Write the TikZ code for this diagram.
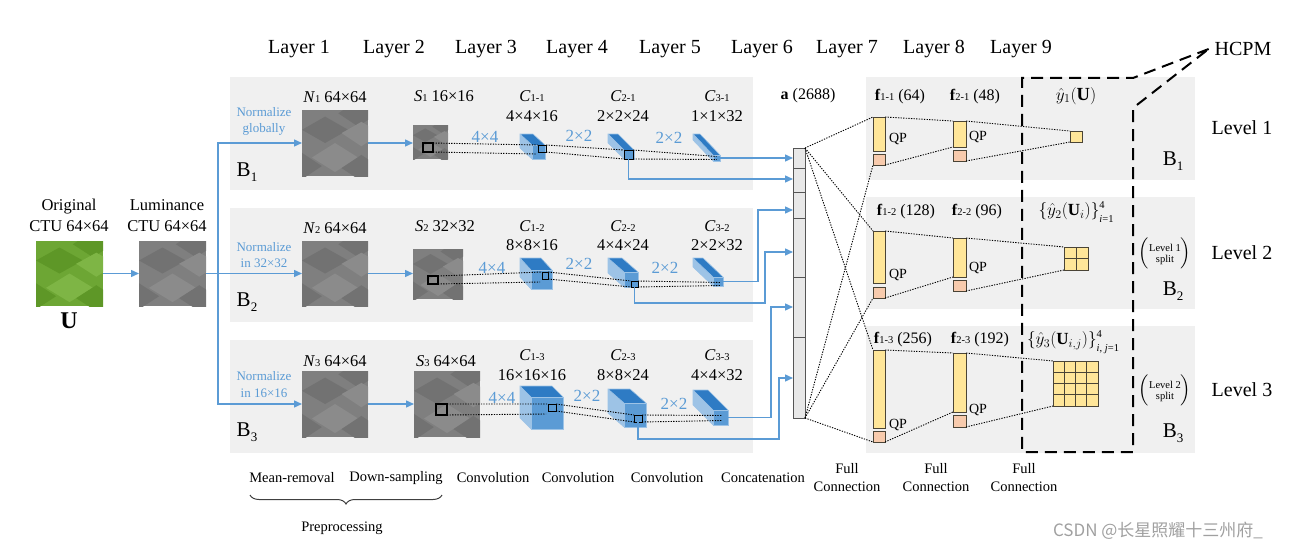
\documentclass[tikz,border=0pt]{standalone}
\usepackage{amsmath}
\usepackage{fontspec}
\setmainfont{Liberation Serif}
\newfontfamily\cjk{Noto Sans CJK SC}
\usetikzlibrary{arrows.meta,fit,calc,decorations.pathreplacing}

\definecolor{panel}{HTML}{F0F0F0}
\definecolor{bl}{HTML}{5B9BD5}
\definecolor{ctop}{HTML}{2E7BC4}
\definecolor{cfront}{HTML}{5B9BD5}
\definecolor{cside}{HTML}{9DC3E6}
\definecolor{fy}{HTML}{FFE699}
\definecolor{fo}{HTML}{F8CBAD}
\definecolor{fedge}{HTML}{4A4436}
\definecolor{vecfill}{HTML}{E8E8E8}
\definecolor{vecedge}{HTML}{555555}
\definecolor{imgg}{HTML}{7F7F7F}
\definecolor{imgdk}{HTML}{727272}
\definecolor{imglt}{HTML}{8B8B8B}
\definecolor{grn}{HTML}{6DA634}
\definecolor{grndk}{HTML}{5E9727}
\definecolor{grnlt}{HTML}{7EB545}
\definecolor{wmark}{HTML}{A0A0A0}

\newcommand{\fsz}[2]{\fontsize{#1}{#2}\selectfont}
\newcommand{\sbs}[1]{{\fsz{10.5}{11}#1}}
\newcommand{\lowsub}[1]{\raisebox{-5pt}{\fsz{13}{13}#1}}
\newcommand{\limstack}[2]{{\fsz{10.5}{13.5}\begin{tabular}[c]{@{}l@{}}#1\\#2\end{tabular}}}

% node, width, height, dark colour, light colour
\newcommand{\texturize}[5]{%
  \begin{scope}
    \clip (#1.north west) rectangle (#1.south east);
    \begin{scope}[shift={(#1.north west)}, xscale=#2, yscale=#3]
      \fill[#4] (0,0.3) -- (0.35,0.1) -- (0.7,0.3) -- (0.35,0.5) -- cycle;
      \fill[#4] (0.55,0.05) -- (0.85,-0.15) -- (1.15,0.05) -- (0.85,0.25) -- cycle;
      \fill[#5] (0.15,0.72) -- (0.5,0.5) -- (0.85,0.72) -- (0.5,0.94) -- cycle;
      \fill[#5] (0.6,0.35) -- (0.9,0.18) -- (1.2,0.35) -- (0.9,0.55) -- cycle;
      \fill[#4] (0.6,0.88) -- (0.9,0.68) -- (1.2,0.88) -- (0.9,1.08) -- cycle;
      \fill[#4] (-0.3,0.85) -- (0.0,0.65) -- (0.3,0.85) -- (0,1.05) -- cycle;
    \end{scope}
  \end{scope}}

% name, x0, y0, x1, y1 (front face), depth dx, dy (towards upper left)
\newcommand{\cube}[7]{%
  \fill[cside] (#2,#3) -- (#2,#5) -- ({#2-#6},{#5-#7}) -- ({#2-#6},{#3-#7}) -- cycle;
  \fill[ctop] (#2,#3) -- (#4,#3) -- ({#4-#6},{#3-#7}) -- ({#2-#6},{#3-#7}) -- cycle;
  \node[cubefront, fit={(#2,#3) (#4,#5)}] (#1) {};
  \draw[cedge] (#4,#3) -- ({#4-#6},{#3-#7}) -- ({#2-#6},{#3-#7}) -- ({#2-#6},{#5-#7}) -- (#2,#5)
               (#2,#3) -- ({#2-#6},{#3-#7});}

\begin{document}
\begin{tikzpicture}[x=1pt,y=-1pt,
  every node/.style={inner sep=0pt, outer sep=0pt},
  panelbox/.style={fill=panel, draw=none},
  img/.style={draw=none},
  layer/.style={font=\fsz{20}{24}},
  lbl/.style={font=\fsz{16.5}{21}, align=center},
  bottomlbl/.style={font=\fsz{14.5}{18}, align=center},
  bluetxt/.style={text=bl, font=\fsz{13}{16.5}, align=center},
  kern/.style={text=bl, font=\fsz{17}{20}},
  bigB/.style={font=\fsz{21}{21}},
  mathlbl/.style={font=\fsz{17}{20}},
  barrow/.style={draw=bl, line width=1.4pt, -{Triangle[length=8pt,width=7pt]}},
  dots/.style={dash pattern=on 1.3pt off 1.3pt, line width=0.9pt},
  sqr/.style={draw=black, line width=1.1pt},
  cubefront/.style={fill=cfront, draw=cside, line width=0.6pt},
  cedge/.style={draw=cside, line width=0.6pt},
  ybar/.style={fill=fy, draw=fedge, line width=0.9pt},
  obox/.style={fill=fo, draw=fedge, line width=0.9pt},
  vecbox/.style={fill=vecfill, draw=vecedge, line width=1pt},
  hcpmline/.style={draw=black, line width=2pt, dash pattern=on 12pt off 7pt}]

\useasboundingbox (0,0) rectangle (1294,551);

% ---------- panels ----------
\node[panelbox, fit={(230,77) (753,190)}] (P1) {};
\node[panelbox, fit={(230,208) (753,322)}] (P2) {};
\node[panelbox, fit={(230,340) (753,453)}] (P3) {};
\node[panelbox, fit={(866,77) (1195,180)}] (R1) {};
\node[panelbox, fit={(866,197) (1195,309)}] (R2) {};
\node[panelbox, fit={(866,326) (1195,453)}] (R3) {};

% ---------- layer labels ----------
\foreach \x/\n in {299/1,394/2,486/3,577/4,670/5,762/6,847/7,934/8,1021/9}
  \node[layer] (Lay\n) at (\x,49) {Layer \n};
\node[layer] (HCPM) at (1243,49) {HCPM};

% ---------- input ----------
\node[lbl] (origT) at (69,215.5) {Original\\CTU 64×64};
\node[lbl] (lumT) at (167,215.5) {Luminance\\CTU 64×64};
\node[img, fill=grn, fit={(36,241) (103,306)}] (orig) {};
\texturize{orig}{67}{65}{grndk}{grnlt}
\node[img, fill=imgg, fit={(139,241) (206,306)}] (lum) {};
\texturize{lum}{67}{65}{imgdk}{imglt}
\node[font=\fsz{24}{24}\bfseries] (Ulbl) at (69,321) {U};

% ---------- N images ----------
\node[img, fill=imgg, fit={(302,110) (368,176)}] (N1) {};
\texturize{N1}{66}{66}{imgdk}{imglt}
\node[img, fill=imgg, fit={(302,241) (368,306)}] (N2) {};
\texturize{N2}{66}{65}{imgdk}{imglt}
\node[img, fill=imgg, fit={(302,371) (368,437)}] (N3) {};
\texturize{N3}{66}{66}{imgdk}{imglt}

% ---------- S images ----------
\node[img, fill=imgg, fit={(413,125) (448,159)}] (S1) {};
\texturize{S1}{35}{34}{imgdk}{imglt}
\node[img, fill=imgg, fit={(413,249) (463,299)}] (S2) {};
\texturize{S2}{50}{50}{imgdk}{imglt}
\node[img, fill=imgg, fit={(414,371) (480,437)}] (S3) {};
\texturize{S3}{66}{66}{imgdk}{imglt}

% labels in left panels
\node[bluetxt] (nz1) at (264,121.5) {Normalize\\globally};
\node[bluetxt] (nz2) at (264,255) {Normalize\\in 32×32};
\node[bluetxt] (nz3) at (264,384.5) {Normalize\\in 16×16};
\node[lbl] (N1l) at (335,97) {\textit{N}\sbs{1} 64×64};
\node[lbl] (N2l) at (335,228) {\textit{N}\sbs{2} 64×64};
\node[lbl] (N3l) at (335,361) {\textit{N}\sbs{3} 64×64};
\node[lbl] (S1l) at (444,96) {\textit{S}\sbs{1} 16×16};
\node[lbl] (S2l) at (445,226) {\textit{S}\sbs{2} 32×32};
\node[lbl] (S3l) at (446,361) {\textit{S}\sbs{3} 64×64};
\node[bigB] (B1l) at (247,172) {B\lowsub{1}};
\node[bigB] (B2l) at (247,302) {B\lowsub{2}};
\node[bigB] (B3l) at (247,432) {B\lowsub{3}};

% ---------- input arrows ----------
\coordinate (br) at (218,273.5);
\draw[barrow] (orig) -- (lum);
\draw[barrow] (lum.east) -- (N2.west);
\draw[barrow] (br) |- (N1);
\draw[barrow] (br) |- (N3);
\draw[barrow] (N1.east) -- (N1.east -| S1.west);
\draw[barrow] (N2.east) -- (N2.east -| S2.west);
\draw[barrow] (N3.east) -- (N3.east -| S3.west);

% ---------- conv layer labels ----------
\node[lbl, font=\fsz{16.5}{20}] (C11l) at (532,106) {\textit{C}\sbs{1-1}\\4×4×16};
\node[lbl, font=\fsz{16.5}{20}] (C21l) at (623,106) {\textit{C}\sbs{2-1}\\2×2×24};
\node[lbl, font=\fsz{16.5}{20}] (C31l) at (717,106) {\textit{C}\sbs{3-1}\\1×1×32};
\node[lbl, font=\fsz{16.5}{19}] (C12l) at (532,235.5) {\textit{C}\sbs{1-2}\\8×8×16};
\node[lbl, font=\fsz{16.5}{19}] (C22l) at (623,235.5) {\textit{C}\sbs{2-2}\\4×4×24};
\node[lbl, font=\fsz{16.5}{19}] (C32l) at (717,235.5) {\textit{C}\sbs{3-2}\\2×2×32};
\node[lbl, font=\fsz{16.5}{20}] (C13l) at (532,365) {\textit{C}\sbs{1-3}\\16×16×16};
\node[lbl, font=\fsz{16.5}{20}] (C23l) at (623,365) {\textit{C}\sbs{2-3}\\8×8×24};
\node[lbl, font=\fsz{16.5}{20}] (C33l) at (717,365) {\textit{C}\sbs{3-3}\\4×4×32};

\node[kern] (k11) at (485,137) {4×4};
\node[kern] (k21) at (579,136) {2×2};
\node[kern] (k31) at (669,138) {2×2};
\node[kern] (k12) at (492,268) {4×4};
\node[kern] (k22) at (579,264) {2×2};
\node[kern] (k32) at (665,268) {2×2};
\node[kern] (k13) at (502,398) {4×4};
\node[kern] (k23) at (587,396) {2×2};
\node[kern] (k33) at (674,404) {2×2};

% ---------- cubes ----------
\cube{C11}{532}{145}{545}{159}{12}{11}
\cube{C21}{624}{150}{634}{159}{16}{16}
\cube{C31}{713}{155}{720}{161}{20}{21}
\cube{C12}{531}{270}{552}{289}{11}{12}
\cube{C22}{624}{272}{638}{287}{16}{14}
\cube{C32}{713}{277}{723}{286}{20}{19}
\cube{C13}{531}{397}{563}{429}{11}{11}
\cube{C23}{624}{403}{646}{427}{16}{14}
\cube{C33}{713}{410}{728}{425}{20}{20}

% receptive-field squares
\node[sqr, fit={(423,143) (433,152)}] (q1) {};
\node[sqr, fit={(428,276) (438,284)}] (q2) {};
\node[sqr, fit={(436,404) (447,415)}] (q3) {};
\node[sqr, line width=0.9pt, fit={(538,145) (546,152)}] (cq11) {};
\node[sqr, line width=0.9pt, fit={(624,150) (633,159)}] (cq21) {};
\node[sqr, line width=0.9pt, fit={(542,272) (548,279)}] (cq12) {};
\node[sqr, line width=0.9pt, fit={(631,281) (638,287)}] (cq22) {};
\node[sqr, line width=0.9pt, fit={(548,404) (556,411)}] (cq13) {};
\node[sqr, line width=0.9pt, fit={(634,415) (642,422)}] (cq23) {};

% dotted projections
\draw[dots] (q1.north east) -- (cq11.north west) (q1.south east) -- ($(cq11.south west)+(-2,2)$);
\draw[dots] (cq11.north east) -- (cq21.north west) (cq11.south east) -- (cq21.south west);
\draw[dots] (cq21.north east) -- ($(C31.center)+(0,-1.5)$) (cq21.south east) -- ($(C31.center)+(0,1.5)$);
\draw[dots] (q2.north east) -- (cq12.north west) (q2.south east) -- ($(cq12.south west)+(-2,3)$);
\draw[dots] (cq12.north east) -- (cq22.north west) (cq12.south east) -- (cq22.south west);
\draw[dots] (cq22.north east) -- ($(C32.center)+(3,1)$) (cq22.south east) -- ($(C32.center)+(3,4)$);
\draw[dots] (q3.north east) -- (cq13.north west) (q3.south east) -- ($(cq13.south west)+(-2,3)$);
\draw[dots] (cq13.north east) -- (cq23.north west) (cq13.south east) -- (cq23.south west);
\draw[dots] (cq23.north east) -- ($(C33.center)+(2,-2)$) (cq23.south east) -- ($(C33.center)+(2,3)$);

% ---------- concatenation vector ----------
\node[vecbox, fit={(793,148) (805,418)}] (vec) {};
\foreach \yy in {168,192,218,277,337}
  \draw[draw=vecedge, line width=1pt] (vec.west |- 0,\yy) -- (vec.east |- 0,\yy);
\node[font=\fsz{16}{19}] (veclbl) at (808,96) {\textbf{a} (2688)};

% feature arrows into the vector
\draw[barrow] (C31.east) -- (C31.east -| vec.west);
\draw[barrow] (cq21.south) |- (vec.west |- 0,179);
\draw[barrow] (C32.east) -| (758,210) -- (vec.west |- 0,210);
\draw[barrow] (cq22.south) |- (765,303) |- (vec.west |- 0,252);
\draw[barrow] (C33.east) -| (771,307) -- (vec.west |- 0,307);
\draw[barrow] (cq23.south) |- (779,439) |- (vec.west |- 0,378);

% ---------- fully connected ----------
\node[ybar, fit={(873,117) (885,151)}] (f11) {};
\node[obox, fit={(873,154) (885,165)}] (o11) {};
\node[ybar, fit={(953,121) (966,147)}] (f21) {};
\node[obox, fit={(953,150) (966,161)}] (o21) {};
\node[ybar, fit={(1070,131) (1082,142)}] (y1) {};

\node[ybar, fit={(873,231) (885,283)}] (f12) {};
\node[obox, fit={(873,287) (885,298)}] (o12) {};
\node[ybar, fit={(953,238) (966,277)}] (f22) {};
\node[obox, fit={(953,280) (966,291)}] (o22) {};
\node[ybar, fit={(1064,247) (1088,270)}] (y2) {};
\draw[fedge, line width=0.9pt] (y2.north) -- (y2.south) (y2.west) -- (y2.east);

\node[ybar, fit={(873,350) (885,428)}] (f13) {};
\node[obox, fit={(873,431) (885,442)}] (o13) {};
\node[ybar, fit={(953,353) (966,412)}] (f23) {};
\node[obox, fit={(953,415) (966,427)}] (o23) {};
\node[ybar, fit={(1053,361) (1098,406)}] (y3) {};
\foreach \t in {0.25,0.5,0.75} {
  \draw[fedge, line width=0.9pt] ($(y3.north west)!\t!(y3.north east)$) -- ($(y3.south west)!\t!(y3.south east)$);
  \draw[fedge, line width=0.9pt] ($(y3.north west)!\t!(y3.south west)$) -- ($(y3.north east)!\t!(y3.south east)$);
}

% vector to first FC layers
\draw[dots] (vec.north east) -- (f11.north west);
\draw[dots] (vec.north east) -- (f12.north west);
\draw[dots] (vec.north east) -- (f13.north west);
\draw[dots] (vec.south east) -- (o11.south west);
\draw[dots] (vec.south east) -- (o12.south west);
\draw[dots] (vec.south east) -- (o13.south west);

% FC projections
\draw[dots] (f11.north east) -- (f21.north west) (o11.south east) -- (f21.south west);
\draw[dots] (f21.north east) -- (y1.north west) (o21.south east) -- (y1.south west);
\draw[dots] (f12.north east) -- (f22.north west) (o12.south east) -- (f22.south west);
\draw[dots] (f22.north east) -- (y2.north west) (o22.south east) -- (y2.south west);
\draw[dots] (f13.north east) -- (f23.north west) (o13.south east) -- (f23.south west);
\draw[dots] (f23.north east) -- (y3.north west) (o23.south east) -- (y3.south west);

% QP labels
\node[font=\fsz{14}{16}] (qp11) at (898,139) {QP};
\node[font=\fsz{14}{16}] (qp21) at (978,137) {QP};
\node[font=\fsz{14}{16}] (qp12) at (898,275) {QP};
\node[font=\fsz{14}{16}] (qp22) at (978,268) {QP};
\node[font=\fsz{14}{16}] (qp13) at (898,425) {QP};
\node[font=\fsz{14}{16}] (qp23) at (978,410) {QP};

% FC labels
\node[font=\fsz{16}{19}] (f11l) at (900,97) {\textbf{f}\sbs{1-1} (64)};
\node[font=\fsz{16}{19}] (f21l) at (975,97) {\textbf{f}\sbs{2-1} (48)};
\node[font=\fsz{16}{19}] (f12l) at (906,212) {\textbf{f}\sbs{1-2} (128)};
\node[font=\fsz{16}{19}] (f22l) at (977,212) {\textbf{f}\sbs{2-2} (96)};
\node[font=\fsz{16}{19}] (f13l) at (903,340) {\textbf{f}\sbs{1-3} (256)};
\node[font=\fsz{16}{19}] (f23l) at (980,340) {\textbf{f}\sbs{2-3} (192)};

% outputs
\node[font=\fsz{18.5}{20}] (y1l) at (1076,96) {$\hat{y}_1(\mathbf{U})$};
\node[mathlbl] (y2l) at (1076,213) {$\{\hat{y}_2(\mathbf{U}_i)\}$\limstack{4}{\textit{i}=1}};
\node[mathlbl] (y3l) at (1073,342) {$\{\hat{y}_3(\mathbf{U}_{i,j})\}$\limstack{4}{\textit{i}, \textit{j}=1}};

\node[layer] (lev1) at (1242,128) {Level 1};
\node[layer] (lev2) at (1242,253) {Level 2};
\node[layer] (lev3) at (1242,390) {Level 3};
\node[font=\fsz{16}{19}] (sp1) at (1165,253) {$\left(\text{\fsz{10.5}{11}\begin{tabular}{@{}c@{}}Level 1\\split\end{tabular}}\right)$};
\node[font=\fsz{16}{19}] (sp2) at (1165,390) {$\left(\text{\fsz{10.5}{11}\begin{tabular}{@{}c@{}}Level 2\\split\end{tabular}}\right)$};
\node[bigB] (RB1) at (1173,161) {B\lowsub{1}};
\node[bigB] (RB2) at (1173,291) {B\lowsub{2}};
\node[bigB] (RB3) at (1173,433) {B\lowsub{3}};

% HCPM dashed frame
\coordinate (hp) at ($(HCPM.west)+(-6,0)$);
\draw[hcpmline] (hp) -- (1133,78) -- (1022,78) -- (1022,452) -- (1133,452) -- (1133,108) -- cycle;

% ---------- bottom labels ----------
\node[bottomlbl] (b1) at (292,478) {Mean-removal};
\node[bottomlbl] (b2) at (396,478) {Down-sampling};
\node[bottomlbl] (b3) at (493,478) {Convolution};
\node[bottomlbl] (b4) at (578,478) {Convolution};
\node[bottomlbl] (b5) at (667,478) {Convolution};
\node[bottomlbl] (b6) at (763,478) {Concatenation};
\node[bottomlbl] (b7) at (847,478) {Full\\Connection};
\node[bottomlbl] (b8) at (936,478) {Full\\Connection};
\node[bottomlbl] (b9) at (1024,478) {Full\\Connection};
\coordinate (brL) at (250,495);
\coordinate (brR) at (442,495);
\draw[draw=black!75, line width=1pt, decorate, decoration={brace, mirror, amplitude=9pt}] (brL) -- (brR);
\node[bottomlbl] (prep) at (342,528) {Preprocessing};

% watermark
\node[font=\cjk\fsz{17}{20}, text=wmark] (wm) at (1158,531) {CSDN @长星照耀十三州府\_};
\end{tikzpicture}
\end{document}
